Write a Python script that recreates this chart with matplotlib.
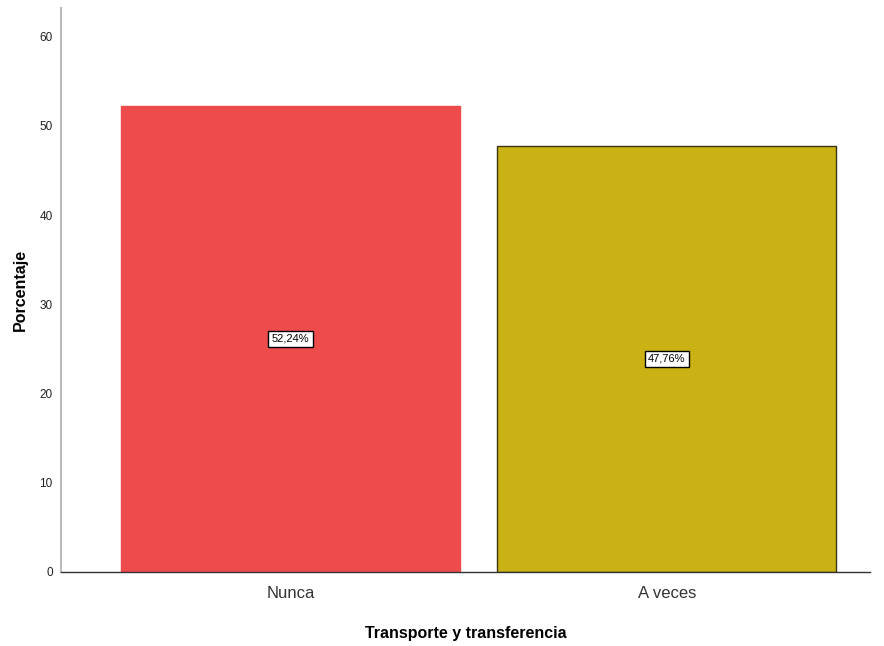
import numpy as np
import matplotlib
matplotlib.use("Agg")
import matplotlib.pyplot as plt

categories = ["Nunca", "A veces"]
percent = [52.24, 47.76]
bar_colors = ["#ED4B4C", "#CAB214"]
edge_colors = ["#ED4B4C", "#3a3410"]

plt.rcParams['font.family'] = ['Liberation Sans', 'DejaVu Sans']

fig = plt.figure(figsize=(8.84, 6.46), dpi=100)
ax = fig.add_axes([0.069, 0.1146, 0.915, 0.873])

x = np.arange(len(categories))
bars = ax.bar(x, percent, width=0.9, color=bar_colors, edgecolor=edge_colors, linewidth=1.0, zorder=2)

for xi, val in zip(x, percent):
    ax.text(xi, val / 2, "{:.2f}%".format(val).replace(".", ","), ha="center", va="center",
            fontsize=8, color="black",
            bbox=dict(boxstyle="square,pad=0.3", facecolor="white", edgecolor="black", linewidth=1.0),
            zorder=3)

ax.set_xlim(-0.61, 1.54)
ax.set_ylim(0, 63.2)
ax.set_yticks(np.arange(0, 61, 10))
ax.set_xticks(x)
ax.set_xticklabels(categories, fontsize=12, color="#333333")
ax.tick_params(axis="y", length=0, labelsize=8.5, colors="#222222", pad=6)
ax.tick_params(axis="x", length=0, pad=10)

for s in ["top", "right"]:
    ax.spines[s].set_visible(False)
ax.spines["left"].set_color("#bbbbbb")
ax.spines["left"].set_linewidth(1.5)
ax.spines["bottom"].set_color("#333333")
ax.spines["bottom"].set_linewidth(1.0)

ax.set_xlabel("Transporte y transferencia", fontsize=11.5, fontweight="bold", labelpad=18)
ax.set_ylabel("Porcentaje", fontsize=11.5, fontweight="bold", labelpad=8)

fig.savefig("out.png", dpi=100)
